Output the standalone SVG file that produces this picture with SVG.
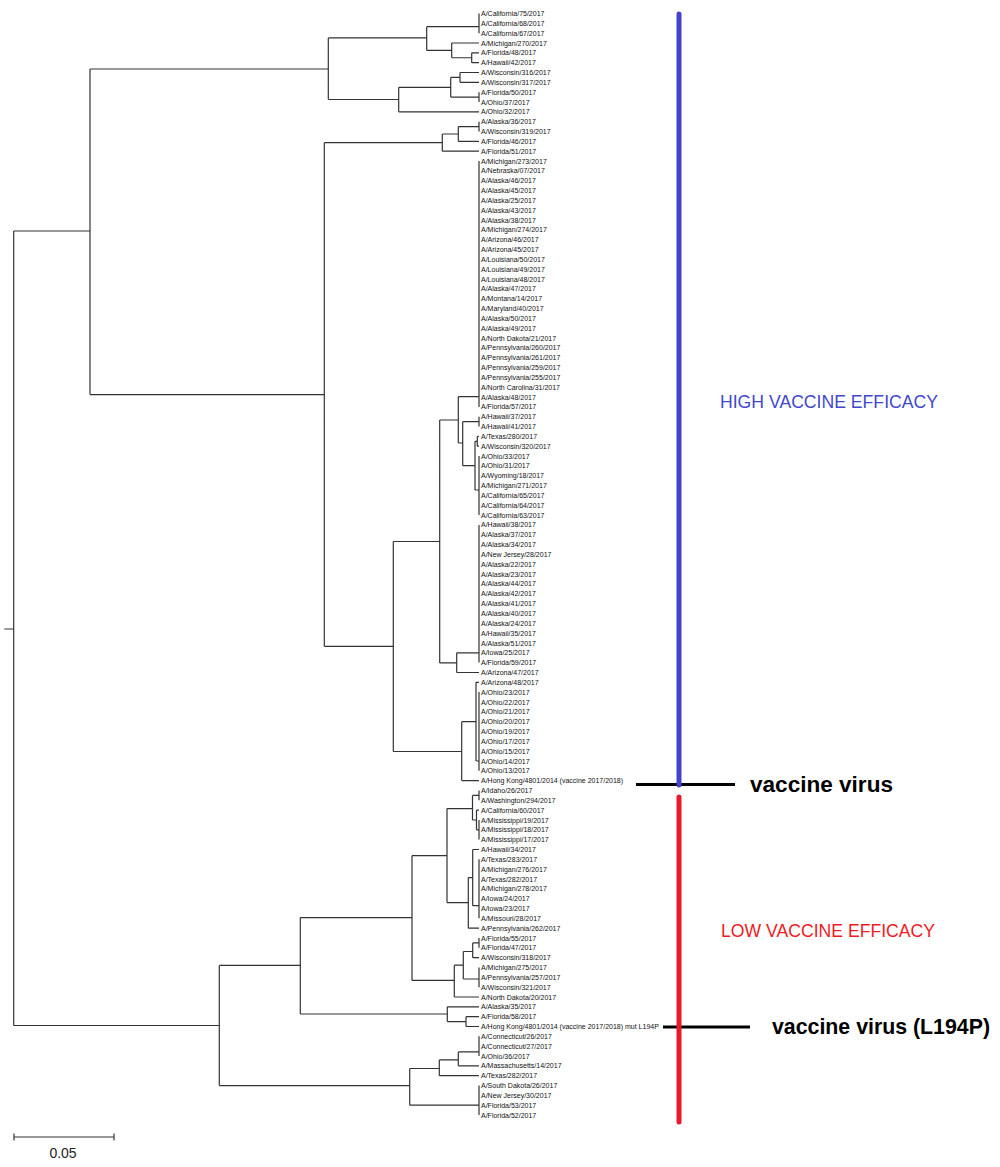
<svg xmlns="http://www.w3.org/2000/svg" width="1000" height="1167" viewBox="0 0 1000 1167">
<style>
.t{font-family:"Liberation Sans",Arial,sans-serif;font-size:7px;fill:#111}
.br{fill:none;stroke:#333;stroke-width:1.2}
.big{font-family:"Liberation Sans",Arial,sans-serif;font-weight:bold;font-size:22px;fill:#000}
.eff{font-family:"Liberation Sans",Arial,sans-serif;font-size:18px}
</style>
<rect width="1000" height="1167" fill="#fff"/>
<g id="connectors">
<path class="br" d="M4.3 629H13.7 M13.7 231V1025.5 M13.7 231H90 M90 69V394.6 M90 69H328.3 M328.3 37.9V99.5 M328.3 37.9H426.7 M426.7 26.7V50.4 M426.7 26.7H479 M479 13.5V33.2 M426.7 50.4H451.7 M451.7 43V57.75 M451.7 43H479 M451.7 57.75H471.7 M471.7 52.8V62.7 M471.7 52.8H479 M471.7 62.7H479 M328.3 99.5H398.7 M398.7 87.3V111.8 M398.7 111.8H479 M398.7 87.3H450.7 M450.7 77.4V97.1 M450.7 77.4H460 M460 72.5V82.3 M460 72.5H479 M460 82.3H479 M450.7 97.1H479 M479 92.2V102"/>
<path class="br" d="M90 394.6H324.3 M324.3 142.7V646.3 M324.3 142.7H442.3 M442.3 134V151.2 M442.3 134H458.3 M458.3 126.6V141.4 M458.3 126.6H479 M479 121.7V131.5 M458.3 141.4H479 M442.3 151.2H479 M324.3 646.3H393.3 M393.3 541.5V751.5 M393.3 541.5H439.7 M439.7 420V662.9 M439.7 420H458.3 M458.3 396.7V443 M458.3 396.7H479 M479 161V406.9 M458.3 443H462.7 M462.7 421.65V465.7 M462.7 421.65H479 M479 416.7V426.6 M462.7 465.7H475 M475 441.3V490 M475 441.3H477.3 M477.3 436.4V446.2 M477.3 436.4H479 M477.3 446.2H479 M475 490H479 M479 456.1V515.1 M439.7 662.9H456.7 M456.7 652.8V672.5 M456.7 652.8H479 M479 524.9V662.6 M456.7 672.5H479 M393.3 751.5H461.7 M461.7 721.7V780.6 M461.7 721.7H476 M476 682.3V761 M476 682.3H479 M476 761H479 M479 692.1V770.8 M461.7 780.6H479"/>
<path class="br" d="M13.7 1025.5H219.3 M219.3 965.4V1085.6 M219.3 965.4H300.3 M300.3 917.6V1014 M300.3 917.6H412 M412 855.6V980.4 M412 855.6H447 M447 808.6V902.6 M447 808.6H472.5 M472.5 795.4V820 M472.5 795.4H479 M479 790.5V800.3 M472.5 820H476.5 M476.5 810.1V829.8 M476.5 810.1H479 M476.5 829.8H479 M479 820V839.6 M447 902.6H468.3 M468.3 877.6V928.2 M468.3 877.6H472.7 M472.7 849.5V905.7 M472.7 849.5H479 M472.7 905.7H479 M479 859.3V918.3 M468.3 928.2H479 M412 980.4H454.3 M454.3 965.2V997 M454.3 965.2H463.3 M463.3 951.5V979 M463.3 951.5H472.7 M472.7 942.9V957.7 M472.7 942.9H479 M479 938V947.8 M472.7 957.7H479 M463.3 979H479 M479 967.5V987.2 M454.3 997H479 M300.3 1014H447.3 M447.3 1006.8V1021.6 M447.3 1006.8H479 M447.3 1021.6H466 M466 1016.7V1026.5 M466 1016.7H479 M466 1026.5H479 M219.3 1085.6H409.7 M409.7 1068.5V1105.2 M409.7 1068.5H439.3 M439.3 1059.9V1075.7 M439.3 1059.9H458.3 M458.3 1051.9V1065.8 M458.3 1051.9H479 M479 1036.3V1056 M458.3 1065.8H479 M439.3 1075.7H479 M409.7 1105.2H479 M479 1085.5V1115"/>
<path class="br" d="M14 1137H114 M14 1133.5V1140.5 M114 1133.5V1140.5"/>
<path fill="none" stroke="#000" stroke-width="3" d="M636 784.5H735 M663 1027H750"/>
</g>
<g id="scale"><text x="63" y="1158" text-anchor="middle" style="font-family:'Liberation Sans',Arial,sans-serif;font-size:14px;fill:#222">0.05</text></g>
<g id="high-bar"><line x1="679" y1="14" x2="679" y2="785" stroke="#4343C8" stroke-width="5" stroke-linecap="round"/></g>
<g id="low-bar"><line x1="679" y1="797" x2="679" y2="1122" stroke="#E8192C" stroke-width="5" stroke-linecap="round"/></g>
<g id="high-label"><text class="eff" x="720" y="408" fill="#3F48CC" textLength="218" lengthAdjust="spacingAndGlyphs">HIGH VACCINE EFFICACY</text></g>
<g id="low-label"><text class="eff" x="721" y="937" fill="#ED1C24" textLength="214" lengthAdjust="spacingAndGlyphs">LOW VACCINE EFFICACY</text></g>
<g id="vaccine-label"><text class="big" x="750" y="792" textLength="143" lengthAdjust="spacingAndGlyphs">vaccine virus</text></g>
<g id="vaccine-mut-label"><text class="big" x="772" y="1034" textLength="218" lengthAdjust="spacingAndGlyphs">vaccine virus (L194P)</text></g>
<g id="n1"><text class="t" x="481" y="16">A/California/75/2017</text></g>
<g id="n2"><text class="t" x="481" y="25.8">A/California/68/2017</text></g>
<g id="n3"><text class="t" x="481" y="35.7">A/California/67/2017</text></g>
<g id="n4"><text class="t" x="481" y="45.5">A/Michigan/270/2017</text></g>
<g id="n5"><text class="t" x="481" y="55.3">A/Florida/48/2017</text></g>
<g id="n6"><text class="t" x="481" y="65.2">A/Hawaii/42/2017</text></g>
<g id="n7"><text class="t" x="481" y="75">A/Wisconsin/316/2017</text></g>
<g id="n8"><text class="t" x="481" y="84.8">A/Wisconsin/317/2017</text></g>
<g id="n9"><text class="t" x="481" y="94.7">A/Florida/50/2017</text></g>
<g id="n10"><text class="t" x="481" y="104.5">A/Ohio/37/2017</text></g>
<g id="n11"><text class="t" x="481" y="114.3">A/Ohio/32/2017</text></g>
<g id="n12"><text class="t" x="481" y="124.2">A/Alaska/36/2017</text></g>
<g id="n13"><text class="t" x="481" y="134">A/Wisconsin/319/2017</text></g>
<g id="n14"><text class="t" x="481" y="143.9">A/Florida/46/2017</text></g>
<g id="n15"><text class="t" x="481" y="153.7">A/Florida/51/2017</text></g>
<g id="n16"><text class="t" x="481" y="163.5">A/Michigan/273/2017</text></g>
<g id="n17"><text class="t" x="481" y="173.4">A/Nebraska/07/2017</text></g>
<g id="n18"><text class="t" x="481" y="183.2">A/Alaska/46/2017</text></g>
<g id="n19"><text class="t" x="481" y="193">A/Alaska/45/2017</text></g>
<g id="n20"><text class="t" x="481" y="202.9">A/Alaska/25/2017</text></g>
<g id="n21"><text class="t" x="481" y="212.7">A/Alaska/43/2017</text></g>
<g id="n22"><text class="t" x="481" y="222.5">A/Alaska/38/2017</text></g>
<g id="n23"><text class="t" x="481" y="232.4">A/Michigan/274/2017</text></g>
<g id="n24"><text class="t" x="481" y="242.2">A/Arizona/46/2017</text></g>
<g id="n25"><text class="t" x="481" y="252">A/Arizona/45/2017</text></g>
<g id="n26"><text class="t" x="481" y="261.9">A/Louisiana/50/2017</text></g>
<g id="n27"><text class="t" x="481" y="271.7">A/Louisiana/49/2017</text></g>
<g id="n28"><text class="t" x="481" y="281.5">A/Louisiana/48/2017</text></g>
<g id="n29"><text class="t" x="481" y="291.4">A/Alaska/47/2017</text></g>
<g id="n30"><text class="t" x="481" y="301.2">A/Montana/14/2017</text></g>
<g id="n31"><text class="t" x="481" y="311.1">A/Maryland/40/2017</text></g>
<g id="n32"><text class="t" x="481" y="320.9">A/Alaska/50/2017</text></g>
<g id="n33"><text class="t" x="481" y="330.7">A/Alaska/49/2017</text></g>
<g id="n34"><text class="t" x="481" y="340.6">A/North Dakota/21/2017</text></g>
<g id="n35"><text class="t" x="481" y="350.4">A/Pennsylvania/260/2017</text></g>
<g id="n36"><text class="t" x="481" y="360.2">A/Pennsylvania/261/2017</text></g>
<g id="n37"><text class="t" x="481" y="370.1">A/Pennsylvania/259/2017</text></g>
<g id="n38"><text class="t" x="481" y="379.9">A/Pennsylvania/255/2017</text></g>
<g id="n39"><text class="t" x="481" y="389.7">A/North Carolina/31/2017</text></g>
<g id="n40"><text class="t" x="481" y="399.6">A/Alaska/48/2017</text></g>
<g id="n41"><text class="t" x="481" y="409.4">A/Florida/57/2017</text></g>
<g id="n42"><text class="t" x="481" y="419.2">A/Hawaii/37/2017</text></g>
<g id="n43"><text class="t" x="481" y="429.1">A/Hawaii/41/2017</text></g>
<g id="n44"><text class="t" x="481" y="438.9">A/Texas/280/2017</text></g>
<g id="n45"><text class="t" x="481" y="448.7">A/Wisconsin/320/2017</text></g>
<g id="n46"><text class="t" x="481" y="458.6">A/Ohio/33/2017</text></g>
<g id="n47"><text class="t" x="481" y="468.4">A/Ohio/31/2017</text></g>
<g id="n48"><text class="t" x="481" y="478.3">A/Wyoming/18/2017</text></g>
<g id="n49"><text class="t" x="481" y="488.1">A/Michigan/271/2017</text></g>
<g id="n50"><text class="t" x="481" y="497.9">A/California/65/2017</text></g>
<g id="n51"><text class="t" x="481" y="507.8">A/California/64/2017</text></g>
<g id="n52"><text class="t" x="481" y="517.6">A/California/63/2017</text></g>
<g id="n53"><text class="t" x="481" y="527.4">A/Hawaii/38/2017</text></g>
<g id="n54"><text class="t" x="481" y="537.3">A/Alaska/37/2017</text></g>
<g id="n55"><text class="t" x="481" y="547.1">A/Alaska/34/2017</text></g>
<g id="n56"><text class="t" x="481" y="556.9">A/New Jersey/28/2017</text></g>
<g id="n57"><text class="t" x="481" y="566.8">A/Alaska/22/2017</text></g>
<g id="n58"><text class="t" x="481" y="576.6">A/Alaska/23/2017</text></g>
<g id="n59"><text class="t" x="481" y="586.4">A/Alaska/44/2017</text></g>
<g id="n60"><text class="t" x="481" y="596.3">A/Alaska/42/2017</text></g>
<g id="n61"><text class="t" x="481" y="606.1">A/Alaska/41/2017</text></g>
<g id="n62"><text class="t" x="481" y="615.9">A/Alaska/40/2017</text></g>
<g id="n63"><text class="t" x="481" y="625.8">A/Alaska/24/2017</text></g>
<g id="n64"><text class="t" x="481" y="635.6">A/Hawaii/35/2017</text></g>
<g id="n65"><text class="t" x="481" y="645.5">A/Alaska/51/2017</text></g>
<g id="n66"><text class="t" x="481" y="655.3">A/Iowa/25/2017</text></g>
<g id="n67"><text class="t" x="481" y="665.1">A/Florida/59/2017</text></g>
<g id="n68"><text class="t" x="481" y="675">A/Arizona/47/2017</text></g>
<g id="n69"><text class="t" x="481" y="684.8">A/Arizona/48/2017</text></g>
<g id="n70"><text class="t" x="481" y="694.6">A/Ohio/23/2017</text></g>
<g id="n71"><text class="t" x="481" y="704.5">A/Ohio/22/2017</text></g>
<g id="n72"><text class="t" x="481" y="714.3">A/Ohio/21/2017</text></g>
<g id="n73"><text class="t" x="481" y="724.1">A/Ohio/20/2017</text></g>
<g id="n74"><text class="t" x="481" y="734">A/Ohio/19/2017</text></g>
<g id="n75"><text class="t" x="481" y="743.8">A/Ohio/17/2017</text></g>
<g id="n76"><text class="t" x="481" y="753.6">A/Ohio/15/2017</text></g>
<g id="n77"><text class="t" x="481" y="763.5">A/Ohio/14/2017</text></g>
<g id="n78"><text class="t" x="481" y="773.3">A/Ohio/13/2017</text></g>
<g id="n79"><text class="t" x="481" y="783.1">A/Hong Kong/4801/2014 (vaccine 2017/2018)</text></g>
<g id="n80"><text class="t" x="481" y="793">A/Idaho/26/2017</text></g>
<g id="n81"><text class="t" x="481" y="802.8">A/Washington/294/2017</text></g>
<g id="n82"><text class="t" x="481" y="812.6">A/California/60/2017</text></g>
<g id="n83"><text class="t" x="481" y="822.5">A/Mississippi/19/2017</text></g>
<g id="n84"><text class="t" x="481" y="832.3">A/Mississippi/18/2017</text></g>
<g id="n85"><text class="t" x="481" y="842.1">A/Mississippi/17/2017</text></g>
<g id="n86"><text class="t" x="481" y="852">A/Hawaii/34/2017</text></g>
<g id="n87"><text class="t" x="481" y="861.8">A/Texas/283/2017</text></g>
<g id="n88"><text class="t" x="481" y="871.6">A/Michigan/276/2017</text></g>
<g id="n89"><text class="t" x="481" y="881.5">A/Texas/282/2017</text></g>
<g id="n90"><text class="t" x="481" y="891.3">A/Michigan/278/2017</text></g>
<g id="n91"><text class="t" x="481" y="901.2">A/Iowa/24/2017</text></g>
<g id="n92"><text class="t" x="481" y="911">A/Iowa/23/2017</text></g>
<g id="n93"><text class="t" x="481" y="920.8">A/Missouri/28/2017</text></g>
<g id="n94"><text class="t" x="481" y="930.7">A/Pennsylvania/262/2017</text></g>
<g id="n95"><text class="t" x="481" y="940.5">A/Florida/55/2017</text></g>
<g id="n96"><text class="t" x="481" y="950.3">A/Florida/47/2017</text></g>
<g id="n97"><text class="t" x="481" y="960.2">A/Wisconsin/318/2017</text></g>
<g id="n98"><text class="t" x="481" y="970">A/Michigan/275/2017</text></g>
<g id="n99"><text class="t" x="481" y="979.8">A/Pennsylvania/257/2017</text></g>
<g id="n100"><text class="t" x="481" y="989.7">A/Wisconsin/321/2017</text></g>
<g id="n101"><text class="t" x="481" y="999.5">A/North Dakota/20/2017</text></g>
<g id="n102"><text class="t" x="481" y="1009.3">A/Alaska/35/2017</text></g>
<g id="n103"><text class="t" x="481" y="1019.2">A/Florida/58/2017</text></g>
<g id="n104"><text class="t" x="481" y="1029">A/Hong Kong/4801/2014 (vaccine 2017/2018) mut L194P</text></g>
<g id="n105"><text class="t" x="481" y="1038.8">A/Connecticut/26/2017</text></g>
<g id="n106"><text class="t" x="481" y="1048.7">A/Connecticut/27/2017</text></g>
<g id="n107"><text class="t" x="481" y="1058.5">A/Ohio/36/2017</text></g>
<g id="n108"><text class="t" x="481" y="1068.3">A/Massachusetts/14/2017</text></g>
<g id="n109"><text class="t" x="481" y="1078.2">A/Texas/282/2017</text></g>
<g id="n110"><text class="t" x="481" y="1088">A/South Dakota/26/2017</text></g>
<g id="n111"><text class="t" x="481" y="1097.9">A/New Jersey/30/2017</text></g>
<g id="n112"><text class="t" x="481" y="1107.7">A/Florida/53/2017</text></g>
<g id="n113"><text class="t" x="481" y="1117.5">A/Florida/52/2017</text></g>
</svg>
